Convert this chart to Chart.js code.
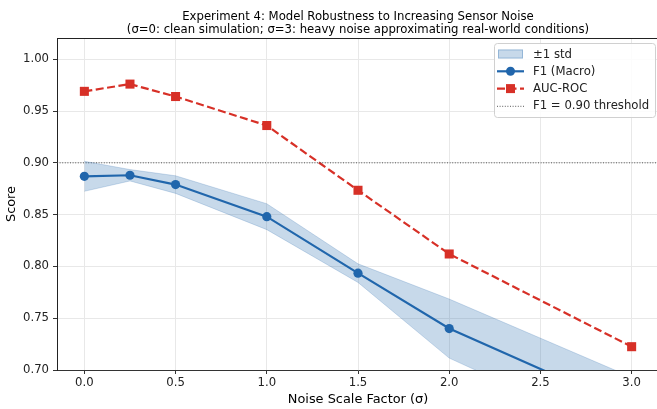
<!DOCTYPE html>
<html><head><meta charset="utf-8">
<script src="https://cdn.jsdelivr.net/npm/chart.js@4.4.1/dist/chart.umd.min.js"></script>
<style>
html,body{margin:0;padding:0;background:#fff;overflow:hidden;width:657px;height:409px}
#wrap{width:660px;height:409px}
</style>
</head><body><div id="wrap"><canvas id="c" width="660" height="409"></canvas></div>
<script>
// ---- data ----
const noiseLevels = [0, 0.25, 0.5, 1.0, 1.5, 2.0, 3.0];
const f1Macro = [0.887, 0.888, 0.879, 0.848, 0.7935, 0.740, 0.662];
const f1Std   = [0.0145, 0.0055, 0.0085, 0.0125, 0.009, 0.0285, 0.031];
const aucRoc  = [0.969, 0.976, 0.964, 0.936, 0.8735, 0.812, 0.7225];
const thresholdValue = 0.90;
const xTicks = [0.0, 0.5, 1.0, 1.5, 2.0, 2.5, 3.0];
const yTicks = [0.70, 0.75, 0.80, 0.85, 0.90, 0.95, 1.00];
const seriesNames = ['±1 std', 'F1 (Macro)', 'AUC-ROC', 'F1 = 0.90 threshold'];
const titleLines = ['Experiment 4: Model Robustness to Increasing Sensor Noise',
  '(σ=0: clean simulation; σ=3: heavy noise approximating real-world conditions)'];
const xLabel = 'Noise Scale Factor (σ)';
const yLabel = 'Score';
const xRange = [-0.15, 3.15];
const yRange = [0.70, 1.0205];

// ---- styles ----
const FONT = "'DejaVu Sans', sans-serif";
const FS = 11.7;
const BLUE = '#2166ac';
const RED = '#d73027';
const BAND = 'rgba(33,102,172,0.25)';
const THR = 'rgba(70,70,70,0.9)';
const LW = 2.2;
const DASH = [8, 3.5];

const pts = (ys) => noiseLevels.map((x, i) => ({x, y: ys[i]}));
const upper = f1Macro.map((v, i) => v + f1Std[i]);
const lower = f1Macro.map((v, i) => v - f1Std[i]);

const titlePlugin = {
  id: 'mplTitle',
  afterDraw(chart) {
    const {ctx, chartArea} = chart;
    const cx = (chartArea.left + chartArea.right) / 2;
    ctx.save();
    ctx.fillStyle = '#000';
    ctx.font = FS + 'px ' + FONT;
    ctx.textAlign = 'center';
    ctx.textBaseline = 'alphabetic';
    ctx.fillText(titleLines[0], cx, 19.5);
    ctx.fillText(titleLines[1], cx, 33);
    // top spine
    ctx.strokeStyle = '#222';
    ctx.lineWidth = 1;
    ctx.beginPath();
    ctx.moveTo(chartArea.left, chartArea.top + 0.5);
    ctx.lineTo(chartArea.right, chartArea.top + 0.5);
    ctx.stroke();
    ctx.restore();
  }
};

const legendPlugin = {
  id: 'mplLegend',
  afterDraw(chart) {
    const {ctx} = chart;
    ctx.save();
    const bx = 494.5, by = 43.5, bw = 161, bh = 74;
    ctx.beginPath();
    ctx.roundRect(bx, by, bw, bh, 3);
    ctx.fillStyle = 'rgba(255,255,255,0.85)';
    ctx.fill();
    ctx.strokeStyle = '#d0d0d0';
    ctx.lineWidth = 1;
    ctx.stroke();
    const rows = [54, 71.3, 88.6, 105.8];
    const x0 = 498, x1 = 523, tx = 533;
    // band patch
    ctx.fillStyle = BAND;
    ctx.fillRect(x0, rows[0] - 4.5, x1 - x0, 9);
    ctx.strokeStyle = 'rgba(33,102,172,0.3)';
    ctx.strokeRect(x0 + 0.5, rows[0] - 4, x1 - x0 - 1, 8);
    // F1 line
    ctx.strokeStyle = BLUE; ctx.lineWidth = LW;
    ctx.beginPath(); ctx.moveTo(x0 - 1, rows[1]); ctx.lineTo(x1 + 1, rows[1]); ctx.stroke();
    ctx.fillStyle = BLUE;
    ctx.beginPath(); ctx.arc((x0 + x1) / 2, rows[1], 4.5, 0, Math.PI * 2); ctx.fill();
    // AUC line
    ctx.strokeStyle = RED;
    ctx.setLineDash(DASH);
    ctx.beginPath(); ctx.moveTo(x0 - 1, rows[2]); ctx.lineTo(x1 + 1, rows[2]); ctx.stroke();
    ctx.setLineDash([]);
    ctx.fillStyle = RED;
    ctx.fillRect((x0 + x1) / 2 - 4.5, rows[2] - 4.5, 9, 9);
    // threshold
    ctx.strokeStyle = THR; ctx.lineWidth = 1;
    ctx.setLineDash([1, 1.6]);
    ctx.beginPath(); ctx.moveTo(x0 - 1, rows[3] + 0.5); ctx.lineTo(x1 + 1, rows[3] + 0.5); ctx.stroke();
    ctx.setLineDash([]);
    // texts
    ctx.fillStyle = '#222';
    ctx.font = FS + 'px ' + FONT;
    ctx.textAlign = 'left';
    ctx.textBaseline = 'middle';
    seriesNames.forEach((t, i) => ctx.fillText(t, tx, rows[i] + 0.5));
    ctx.restore();
  }
};

new Chart(document.getElementById('c'), {
  type: 'line',
  data: {
    datasets: [
      { label: 'upper', data: pts(upper), borderColor: 'rgba(33,102,172,0.2)', borderWidth: 1,
        backgroundColor: BAND, fill: '+1', pointRadius: 0, tension: 0, clip: 0 },
      { label: 'lower', data: pts(lower), borderColor: 'rgba(33,102,172,0.2)', borderWidth: 1,
        fill: false, pointRadius: 0, tension: 0, clip: 0 },
      { label: 'threshold', data: [{x: xRange[0], y: thresholdValue}, {x: xRange[1], y: thresholdValue}],
        borderColor: THR, borderWidth: 1, borderDash: [1, 1.6], pointRadius: 0, fill: false, clip: 0 },
      { label: 'AUC-ROC', data: pts(aucRoc), borderColor: RED, backgroundColor: RED, borderWidth: LW,
        borderDash: DASH, pointStyle: 'rect', pointRadius: 6.4, pointBorderWidth: 0,
        pointBackgroundColor: RED, fill: false, tension: 0, clip: 0 },
      { label: 'F1 (Macro)', data: pts(f1Macro), borderColor: BLUE, backgroundColor: BLUE, borderWidth: LW,
        pointStyle: 'circle', pointRadius: 4.6, pointBorderWidth: 0, pointBackgroundColor: BLUE,
        fill: false, tension: 0, clip: 0 }
    ]
  },
  options: {
    responsive: false,
    animation: false,
    devicePixelRatio: 1,
    layout: { autoPadding: false, padding: { top: 38, right: 1, left: 0, bottom: 0 } },
    plugins: { legend: { display: false }, title: { display: false }, tooltip: { enabled: false } },
    scales: {
      x: {
        type: 'linear', min: xRange[0], max: xRange[1],
        afterFit(s) { s.height = 39; s.paddingRight = 0; s.paddingLeft = 0; },
        afterBuildTicks(s) { s.ticks = xTicks.map(v => ({value: v})); },
        ticks: { callback: v => v.toFixed(1), color: '#222', font: { family: FONT, size: FS }, padding: 2, maxRotation: 0, autoSkip: false },
        grid: { color: '#e8e8e8', lineWidth: 1, tickLength: 4, tickColor: '#333' },
        border: { display: true, color: '#333', width: 1 },
        title: { display: true, text: xLabel, color: '#000', font: { family: FONT, size: 12.9 }, padding: { top: 0, bottom: 2 } }
      },
      y: {
        type: 'linear', min: yRange[0], max: yRange[1],
        afterFit(s) { s.width = 57; s.paddingTop = 0; s.paddingBottom = 0; },
        afterBuildTicks(s) { s.ticks = yTicks.map(v => ({value: v})); },
        ticks: { callback: v => v.toFixed(2), color: '#222', font: { family: FONT, size: FS }, padding: 4, autoSkip: false },
        grid: { color: '#e8e8e8', lineWidth: 1, tickLength: 4, tickColor: '#333' },
        border: { display: true, color: '#222', width: 1 },
        title: { display: true, text: yLabel, color: '#000', font: { family: FONT, size: 12.9 }, padding: { top: 4, bottom: 0 } }
      }
    }
  },
  plugins: [titlePlugin, legendPlugin]
});
</script>
</body></html>
